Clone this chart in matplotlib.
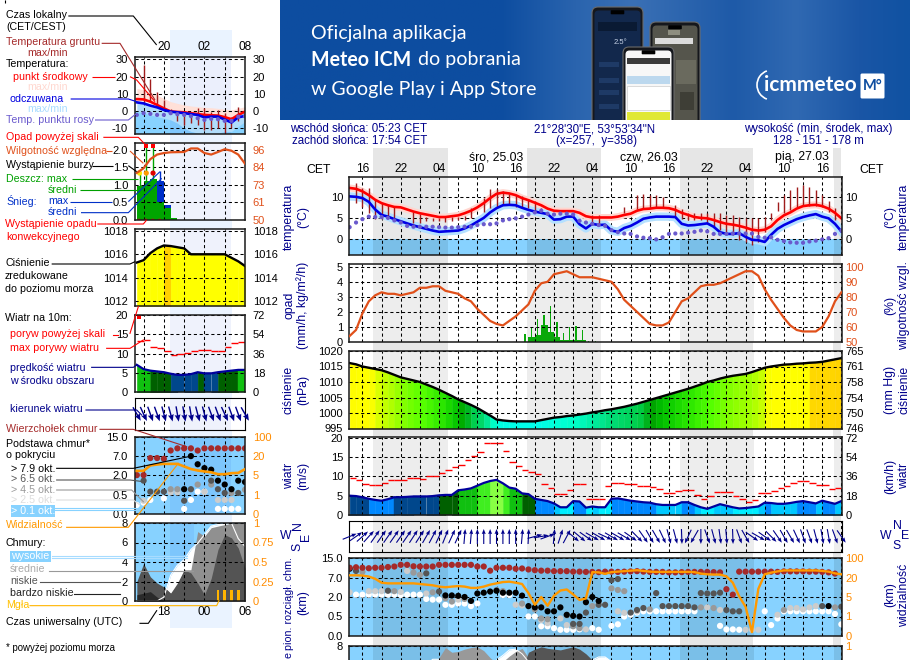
import numpy as np
import matplotlib
matplotlib.use('Agg')
import matplotlib.pyplot as plt
from matplotlib.patches import Rectangle, FancyBboxPatch, Arc
from matplotlib.colors import LinearSegmentedColormap

plt.rcParams['font.family'] = ['Liberation Sans', 'DejaVu Sans']
plt.rcParams['font.size'] = 8
W, H = 910, 660

# ---------- main meteogram data: hourly from t=-2 (t=0 is Tue 16:00 CET) ----------
temp_mid = [12.1,11.9,11.3,10.4,9.3,8.5,8.0,7.6,7.5,7.0,6.5,6.1,5.8,5.5,5.2,5.2,5.4,5.6,6.1,6.7,7.5,8.5,9.7,10.7,11.0,10.8,10.4,9.7,9.2,8.6,8.0,7.2,6.7,6.6,6.6,6.6,6.2,5.4,5.1,5.1,5.1,5.1,5.3,5.7,6.0,6.7,7.1,7.2,7.4,7.4,7.3,6.9,6.2,5.7,5.2,5.0,4.9,4.5,4.0,3.6,3.4,3.1,2.7,2.2,2.0,2.2,3.0,4.5,5.6,6.3,7.2,7.8,8.0,8.1,7.8,7.2,6.2,4.9]
temp_feel = [10.1,10,9.7,8.8,7.0,5.7,5.3,4.7,4.2,3.7,3.2,2.8,2.4,2.0,1.7,1.8,1.9,2.0,2.5,3.2,4.1,5.0,6.3,7.3,8.0,8.1,8.0,7.4,6.9,6.5,6.2,5.9,4.6,4.7,5.3,5.3,3.5,2.5,3.6,3.3,3.4,2.0,1.7,2.6,3.1,3.9,4.8,5.1,5.3,5.3,5.3,5.2,3.6,3.2,3.3,3.5,3.7,2.9,1.6,1.2,1.2,1.4,0.5,-0.2,-0.3,-0.7,1.0,2.4,3.3,4.0,4.7,5.2,5.6,5.9,5.3,4.9,3.6,1.8]
temp_dew = [2.8,3.9,4.7,5.3,5.2,5.2,5.0,4.4,3.9,3.1,2.9,2.9,2.9,2.9,2.8,2.7,2.7,2.8,2.9,2.9,3.3,3.5,3.5,3.7,4.4,4.7,4.9,5.3,5.8,6.3,6.7,6.0,5.8,6.0,6.0,5.8,4.3,3.9,3.6,3.3,3.1,2.1,1.6,1.3,1.2,0.6,0.3,0.2,-0.1,0.4,1.2,1.3,1.3,1.5,1.7,2.0,1.8,1.2,1.2,1.2,1.3,1.3,1.3,1.3,0.5,0.3,0.4,-0.2,-0.5,-0.8,-0.9,-0.9,-0.6,-0.4,-0.1,0.2,1.2,2.0]
soil_hours = [-1,0,1,2,3,4,5,8,9,10,11,12,13,14,15,16,17,19,20,21,22,23,24,25,26,27,28,36,37,41,43,44,45,46,47,49,50,51,52,53,54,55,56,57,58,59,60,61,62,63,64,65,66,67,68,69,70,71,72,73,74]
soil_max = [13.3,12.1,12.1,9.3,8.5,8.0,7.7,6.5,5.9,5.2,5.0,5.0,5.2,5.2,5.3,5.5,7.3,9.7,11.9,11.9,11.3,10.7,10.5,10.1,9.5,8.9,7.3,5.7,5.7,7.7,10.5,10.7,10.5,10.5,9.9,8.1,7.0,6.2,6.2,6.2,6.1,6.1,6.1,5.7,5.7,5.3,4.9,4.9,4.9,5.3,6.1,8.7,10.5,11.5,12.3,12.7,12.3,11.7,10.5,8.9,7.3]
soil_min = [8.5,7.7,6.1,4.7,4.7,4.9,4.5,3.7,3.9,4.2,4.2,4.2,4.0,4.2,4.5,4.5,4.9,6.3,7.3,7.5,8.1,8.0,7.7,7.5,7.3,6.5,6.1,3.3,3.5,6.1,7.0,7.3,7.3,7.3,7.3,5.3,4.7,4.5,4.5,4.5,3.7,2.5,2.1,1.0,1.0,-0.2,-0.6,-1.4,-0.6,1.7,4.5,6.6,6.1,6.9,7.7,7.9,7.9,7.9,7.5,6.5,4.5]
humidity = [54,58,69,77,81,83,82,82,81,82,83,86,86,87,87,84,83,82,79,77,72,68,64,62,61,64,67,71,75,84,89,90,95,96,97,95,93,93,93,92,91,90,85,78,74,70,66,62,61,61,63,70,77,79,83,87,88,88,89,91,93,95,97,97,94,85,78,72,66,61,58,57,57,57,60,67,77,83]
rain_hours = [25,26,27,28,29,30,31,32,33,34,35,36,37]
rain_mean = [0.02,0.33,0.45,1.1,0.67,0.33,0.1,0.15,0.15,0.15,0.02,0.02,0.02]
rain_max = [0.55,0.9,1.5,1.8,2.4,1.3,0.6,1.0,1.05,0.8,0.05,0.05,0.03]
pressure = [1016.1,1015.7,1015.0,1014.6,1014.2,1013.8,1013.1,1012.3,1011.5,1011,1010.5,1010,1009.2,1008.4,1007.5,1006.5,1005.5,1004.4,1003.5,1002.6,1001.6,1000.4,999.2,997.9,997.6,997.4,997.3,997.3,997.3,997.3,997.7,998.1,998.5,998.7,999,999.2,999.5,999.8,1000.2,1000.5,1000.9,1001.2,1001.6,1002,1002.5,1003,1003.6,1004.2,1004.8,1005.4,1006,1006.6,1007.2,1007.8,1008.5,1009.2,1010,1010.5,1011.1,1011.6,1012,1012.3,1012.6,1013.2,1013.9,1014.6,1015,1015.3,1015.6,1015.7,1015.9,1016,1016.2,1016.3,1016.5,1016.9,1017.3,1017.7]
wind = [5,4.9,4.6,4.2,3.9,3.7,4.1,4.6,4.6,4.7,4.8,4.8,4.8,4.9,5.1,5.2,5.2,6.4,6.6,6.9,7.6,8.3,8.8,9.1,8.2,7.1,6.8,5.6,5.4,4.2,3.9,3.6,3,2,2,3.6,3.5,1.9,2.2,2,2,4.2,4.3,4.0,3.7,3.5,3.3,3.2,2.8,2.6,2.6,2.6,3.3,3.3,2.6,2,1.6,2.2,2.8,2.4,2.0,1.7,1.8,2.0,2.2,3.2,3.1,2.9,2.9,3.1,3.4,3.6,3.3,3,3.7,3.3,2.9,3.6]
gust = [9.6,9.1,8,7.7,7.7,8.2,9,9,9,9.6,9.6,9.3,10.2,10.2,10.9,11.7,12.4,13,14.3,15.2,16.4,18.7,18.6,18.6,16.6,13.7,12.7,11.7,11.2,10.6,8,7,5.4,5.4,6.5,8,8,4.1,4.1,4.1,7.6,8.2,8.2,8.1,8.1,7.6,7.6,7.2,6.8,5.8,5.8,6.1,6.5,6.5,5.1,4.1,5,6,6,6,5,4.1,3.3,3.9,5.7,5.7,6.3,7,7.6,8.3,8.9,8.9,8.3,7.7,7.7,6.8,7]
wind_dir = [68,55,48,42,35,35,35,35,35,35,33,33,30,28,25,22,25,25,5,5,0,0,0,0,0,0,0,5,3,75,80,70,5,18,28,130,130,125,120,120,115,120,120,120,125,135,145,150,150,155,165,165,178,205,210,180,160,165,172,175,178,160,150,125,120,125,135,145,150,150,155,160,160,165,170,170,160,145]
cloud_top = [11,11.2,11,10.8,11,11,11.3,11.5,12.2,12.2,11.6,11.5,11.5,11.5,12.2,12.2,12.2,12.2,12.2,12.2,11.5,11.5,9.8,11,11,11,10.6,10.7,10.3,10,9.8,9.8,9.6,9.6,9.6,9.4,9.4,9.3,9.3,9.2,9.4,9.4,9.3,9.4,9.5,9.6,9.4,9.3,9.3,9.3,9.1,9.1,9.2,9.3,9.3,9.3,9.3,9.2,9.1,4.0,2.6,9.4,9.4,9.4,9.4,9.4,9.4,9.3,9.5,9.5,9.5,9.5,9.4,9.4,9.3,9.1,8.6]
base79_hours = [-2,13,14,15,16,17,18,19,20,21,22,23,24,25,26,27,28,29,30,31,32,33,34,35,36,37,73]
base79 = [10.6,2.4,2.4,2.3,2,1.7,2.9,3.1,3.4,3.6,3.1,3.1,3.1,2.35,1.3,1.2,1.2,0.9,0.9,1.2,0.63,0.55,0.5,1.6,2,1.7,1.3]
base65_hours = [-1,4,10,12,33,34,35,37,38,39,40,42,43,44,46,47,48,49,50,51,52,53,54,55,56,57,58,59,72,75]
base65 = [9.7,3.6,8.7,3.4,0.31,0.31,0.8,1.4,1.4,6.3,6.6,0.8,1.0,1.15,3.0,1.3,1.3,1.3,1.3,1.3,1.2,3.0,2.9,2.9,3.1,1.0,0.9,0.9,1.3,1.25]
base45_hours = [0,5,8,9,11,13,14,16,21,22,25,27,28,29,32,33,34,36,39,40,41,45,53,55,66,74]
base45 = [9.3,3.5,9,8.1,3.2,1.9,1.65,1.85,3.8,3.5,1.5,1.05,0.45,0.43,0.6,0.25,0.2,1.3,4.2,3.8,3.5,1.05,1.2,1.15,1.0,1.2]
base25_hours = [-2,1,2,3,6,7,10,15,24,25,28,29,31,32,35,37,40,41,43,54,56,60,61,62,65,67,68,69,70,71]
base25 = [3.2,3.5,3.5,3.5,3.3,9.7,2.9,1.8,1.4,1.35,0.41,0.33,0.45,0.28,0.17,1.5,0.9,0.78,0.9,1.2,1.0,0.16,0.16,0.16,0.63,1.15,1.15,1.05,1.2,1.3]
base01_hours = [-1,0,1,2,3,4,5,6,7,8,9,10,11,12,13,14,15,16,17,18,22,23,26,27,28,29,30,31,32,33,34,36,37,39,40,41,42,43,44,45,46,47,48,49,50,51,52,56,57,58,59,63,64,65,66,67,68,69,70,71,72,73,74,75]
base01 = [2.6,2.6,2.6,2.6,2.6,2.6,2.6,2.5,2.6,2.6,2.6,1.85,1.8,1.8,1.4,1.4,1.5,1.5,1.3,1.5,2.5,2.5,0.5,0.5,0.25,0.25,0.2,0.16,0.16,0.16,0.17,0.2,0.16,0.26,0.3,0.5,0.63,0.8,0.9,0.9,0.9,0.9,0.9,0.9,0.9,0.9,0.9,0.26,0.17,0.17,0.16,0.9,0.28,0.45,0.9,0.9,0.9,0.9,0.9,0.9,0.9,0.9,0.7,0.3]
visibility = [29,29,28,24,19,16,15.5,15.5,15.5,15.5,15.5,15,14.5,14,13,12.5,13,13.4,13,12,12,13,14.5,15.5,16.5,16.8,16,15,8,3.4,5,3.2,6,10,10.8,7,4.4,4.7,42,41,35,42,44,46,48,50,47,44,43,43,43,43,43,43,42,36,33,32,32,25,16,5.5,3,0.2,11.3,33,40,45,49,49,49,49,49,49,47,44,37,33]
cloud_hours = [9,10,11,12,13,14,15,16,17,18,19,20,21,22,23,24,25,26,27,28,29,30,31,32,33,34,35,36,37,38,39,40,47,48,49]
cloud_high = [0.5,0.75,0.83,0.83,0.7,0.6,0.5,0.5,0.5,0.5,0.6,0.7,0.82,0.88,0.95,0.96,0.9,0.8,0.7,0.7,0.7,0.7,0.7,0.7,0.7,0.7,0.75,0.82,0.86,0.86,0.8,0.7,0.76,0.82,0.76]
cloud_mid = [0.3,0.5,0.7,0.85,0.98,0.92,0.93,0.96,0.98,0.99,0.94,0.85,0.78,0.8,0.87,0.93,0.97,0.85,0.8,0.8,0.8,0.8,0.8,0.8,0.8,0.8,0.8,0.7,0.6,0.5,0.4,0.3,0.3,0.3,0.3]
cloud_low = [0,0,0,0,0,0,0,0,0,0,0,0,0,0,0,0,0.7,0.92,0.96,0.99,0.97,0.96,0.95,0.97,0.99,0.96,0.9,0.82,0.75,0.7,0.5,0.3,0,0,0]
night_start = [1.63,25.8,49.8,73.8]
night_end = [13.4,37.4,61.3,77.0]
main_hour_ticks = [0,6,12,18,24,30,36,42,48,54,60,66,72]
main_hour_labels = ['16','22','04','10','16','22','04','10','16','22','04','10','16']

# ---------- left legend meteogram: hourly from 16:00 ----------
l_temp_mid = [6.9,6.7,5.4,3.5,1.5,-0.3,-0.6,-0.8,-1.3,-1.8,-2.3,-2.5,-2.7,-3.6,-4.8,-2.3,-0.4]
l_temp_feel = [5,4.4,3.1,2.1,0.6,-0.4,-0.8,-1.3,-1.8,-2.3,-3.7,-3.3,-3.3,-5,-6.7,-3.7,-2.9]
l_temp_dew = [-2.3,-1.3,-1.7,-2.3,-2.3,-1.3,-1.9,-2.3,-3,-4.2,-5.2,-4.6,-4.8,-5.8,-5.8,-3.3,-3]
l_temp_top = [13,12.5,11,9.2,7.3,5.4,4.4,3.5,2.9,2.5,2.1,1.9,1.5,1,0.6,1.5,2.5]
l_feel_min = [-0.4,-1,-2.3,-3.3,-4.2,-5.2,-7.1,-10,-11.9,-12.9,-13,-13,-12.9,-11.9,-11.9,-9,-6.2]
l_soil_hours = [1,2,3,4,5,6,7,8,9,10,11,12,13,14,15]
l_soil_max = [26.5,18.8,11,6.5,1,-0.2,-0.4,-0.5,1.5,1.5,-0.4,0.5,-1.3,-3.3,2.5]
l_soil_min = [4.4,5.4,4,0.6,-2,-6,-8,-7,-8,-11,-11,-10,-13,-10,-6]
l_humidity = [81,84,90,93,94,94.5,94.6,94.7,97,97,94,93,94.7,96.5,95.5,93,87]
l_rain_hours = [0,1,2,3,4,5]
l_rain = [0.96,1.1,1.17,0.52,0.33,0.05]
l_snow = [0,0,0,0.58,0.1,0]
l_rain_peak_hours = [0.4,1.4,2.4]
l_rain_peak = [1.34,2.1,2.1]
l_pressure = [1015.3,1015.5,1016.1,1016.5,1016.75,1016.7,1016.6,1016.5,1016,1016,1016,1016,1016,1016,1015.7,1015.4,1015]
l_wind = [7.1,6,5.6,5.4,5.2,4.8,4.5,4.5,4.7,5.2,4.9,4.9,5.2,5.4,5.6,5.8,5.8]
l_gust = [13.2,13.6,11.7,11.5,10.6,9.7,10,10.2,10.6,10.9,10.9,10.6,10.6,11.7,12.8,13]
l_dir = [150,155,160,160,165,165,170,170,170,165,165,160,160,155,160,160,150]
l_top = [2.1,2.1,6.5,6.5,6.3,9.3,10.2,10.2,10.2,9.3,10.2,10.2,10.2,10.2,10.2,10.2,10.2]
l_base79_h = [7,8,9,10,11,12,13,14,15,16]
l_base79 = [0.94,7,4.9,3.9,3.5,1.6,1.3,0.94,1.6,1.5]
l_base65_h = [1,2,3,4,7,8,11,12,13,15]
l_base65 = [1.6,0.75,0.75,0.75,0.35,0.94,1.6,0.94,0.65,0.65]
l_base45_h = [5,6,9,11,14,16]
l_base45 = [0.94,0.94,1.3,1.3,0.65,0.9]
l_base25_h = [1,5,6,10,12,13,14]
l_base25 = [0.35,0.7,0.7,0.75,0.37,0.37,0.37]
l_base01_h = [0,1,2,4,7,8,9,10,12,13,14,15]
l_base01 = [0.24,0.3,0.37,0.41,0.14,0.37,0.75,0.75,0.14,0.14,0.14,0.14]
l_vis = [8.6,8.6,12.8,13.5,14,14,14,12,10,8.9,8.1,7.5,6,6,6.8,7,9.9]
l_high = [0,0,0,0,0.05,0.33,0.46,0.53,0.66,0.74,0.85,0.96,0.98,0.98,1,0.8,0.7]
l_mid = [0,0,0,0,0.18,0.1,0.2,0.4,0.4,0.89,0.83,0.94,0.96,0.98,1,1,1]
l_low = [0.25,0.48,0.31,0.23,0.18,0.1,0.23,0.4,0.36,0.23,0.08,0.29,0.66,0.85,0.81,0.68,0.42]
l_vlow = [0.08,0.1,0.12,0.05,0,0,0,0,0,0,0,0,0,0,0,0,0]
l_fog_hours = [12,13,14,15]
l_fog = [0.14,0.14,0.14,0.14]

fig = plt.figure(figsize=(W/100, H/100), dpi=100, facecolor='white')

def box(x0, y0, x1, y1, **kw):
    return fig.add_axes([x0/W, 1-y1/H, (x1-x0)/W, (y1-y0)/H], **kw)

def hrs(a):
    return np.arange(len(a)) - 2

def fine(a):
    return np.arange(len(a))

MX = lambda t: 362.3 + 6.38*t

# background
bg = box(0, 0, W, H, zorder=0)
bg.set_xlim(0, W); bg.set_ylim(H, 0); bg.axis('off')
for a, b in zip(night_start, night_end):
    bg.add_patch(Rectangle((MX(a), 148), MX(min(b, 75.1))-MX(a), H-148, color='#e6e6e6', lw=0))
bg.add_patch(Rectangle((170, 30), 61.7, 598, color='#eaf3ff', lw=0))

# banner
bannercm = LinearSegmentedColormap.from_list('b', [(0, '#0d4da0'), (0.35, '#0d4da0'), (0.47, '#2a64ae'), (0.56, '#3a70b5'), (0.72, '#1e5aa8'), (0.82, '#3069b2'), (0.92, '#1a56a6'), (1, '#1052a2')])
bg.imshow(np.linspace(0, 1, 256)[None, :], extent=(280, 910, 120, 0), cmap=bannercm, aspect='auto', zorder=1)
bg.set_xlim(0, W); bg.set_ylim(H, 0)
def phone(x0, y0, x1, y1, screen, z):
    bg.add_patch(FancyBboxPatch((x0+2, y0+2), x1-x0-4, 130-y0, boxstyle='round,pad=2,rounding_size=6', fc='#15171c', ec='#6a6a6a', lw=0.8, zorder=z))
    bg.add_patch(FancyBboxPatch((x0+3, y0+4), x1-x0-6, 130-y0, boxstyle='round,pad=0.5,rounding_size=4', fc=screen, lw=0, zorder=z+0.1))
    bg.add_patch(FancyBboxPatch(((x0+x1)/2-6, y0+4), 12, 2.5, boxstyle='round,pad=0.8', fc='black', lw=0, zorder=z+0.2))
phone(592, 7, 643, 125, '#12284c', 2)
phone(650, 22, 700, 125, '#55554c', 3)
phone(623, 47, 674, 125, '#f7f7f7', 4)
bg.add_patch(Rectangle((598, 22), 39, 9, fc='#0a1a33', lw=0, zorder=3))
for yy in [62, 78, 90, 104]:
    bg.add_patch(Rectangle((599, yy), 20, 5, fc='#1e3a66', lw=0, zorder=3))
bg.text(620, 42, '2.5°', color='#c8d4e8', fontsize=5.5, ha='center', va='center', zorder=3)
for (xx, yy, ww, hh, cc) in [(655, 38, 38, 6, '#dcdcdc'), (676, 60, 20, 24, '#6a6a5e'), (680, 92, 14, 18, '#3e3e36'), (668, 30, 12, 5, '#8e8e80')]:
    bg.add_patch(Rectangle((xx, yy), ww, hh, fc=cc, lw=0, zorder=3.2))
bg.add_patch(Rectangle((627, 58), 43, 6, fc='#3a3a3a', lw=0, zorder=5))
bg.add_patch(Rectangle((627, 76), 43, 8, fc='#bcd8ee', lw=0, zorder=5))
bg.add_patch(Rectangle((627, 86), 43, 24, fc='white', ec='#c0c0c0', lw=0.4, zorder=5))
bg.add_patch(Rectangle((627, 112), 43, 8, fc='#e0e834', lw=0, zorder=5))
bg.add_patch(Rectangle((280, 120), 630, 28, fc='white', lw=0, zorder=6))

def base_axes(ax, xlim, xticks):
    ax.set_xlim(*xlim)
    ax.set_xticks(xticks, [''] * len(xticks))
    ax.grid(True, color='black', lw=0.75, linestyle=(0, (3, 2.6)))
    ax.set_axisbelow(False)
    ax.tick_params(length=0)
    for s in ax.spines.values():
        s.set_linewidth(1.1); s.set_color('#1a1a1a'); s.set_zorder(6)

def y_labels(ax, ticks, labels, rticks, rlabels, rcolor='black', rlim=None, pads=(4.3, 2.5), scale=None, lcolor='black'):
    ax.set_yticks(ticks, labels)
    ax.tick_params(axis='y', pad=pads[0], labelcolor=lcolor)
    r = ax.twinx()
    if scale is not None:
        r.set_yscale('function', functions=scale)
    r.set_ylim(rlim if rlim is not None else ax.get_ylim())
    r.set_yticks(rticks, rlabels)
    r.tick_params(axis='y', length=0, pad=pads[1], labelcolor=rcolor)
    r.grid(False)
    r.patch.set_visible(False)
    for s in r.spines.values():
        s.set_visible(False)
    return r

def ordinal(xp):
    return (lambda v: np.interp(v, xp, np.arange(len(xp))),
            lambda p: np.interp(p, np.arange(len(xp)), xp))

KM = ordinal([0, 0.5, 2, 7, 15])
VIS = ordinal([0, 1, 5, 20, 100])

P_COL = [(997, '#00ffee'), (999, '#00ffcc'), (1001, '#00dd77'), (1003, '#00cc44'), (1004, '#00a000'), (1005, '#00c000'), (1007, '#22e000'), (1010, '#55ff00'), (1012, '#90ff00'), (1014, '#c8ff00'), (1014.7, '#ffff00'), (1016.1, '#ffff00'), (1016.25, '#ffd800'), (1018, '#ffd000')]
pcmap = LinearSegmentedColormap.from_list('p', [((v-997)/21, c) for v, c in P_COL])
def pcolor(v):
    return pcmap((v-997)/21)
def pcolor_left(v):
    return '#ffd000' if v > 1016.72 else '#ffff00'
def wcolor(v):
    for lim, c in [(2.2, '#00eeff'), (3.2, '#00c8ff'), (4.4, '#0088ff'), (5.05, '#00478c'), (5.7, '#006000'), (7.5, '#10c010'), (8.5, '#40ee20')]:
        if v < lim:
            return c
    return '#88ff44'

def col_fill(ax, x, y, colfun, floor):
    for i in range(len(x)-1):
        ax.fill_between([x[i], x[i+1]], [y[i], y[i+1]], floor, color=colfun(y[i]), lw=0.3, zorder=1)

def shade(ax, starts, ends, color='black', alpha=0.07):
    for a, b in zip(starts, ends):
        ax.axvspan(a, b, color=color, alpha=alpha, lw=0, zorder=0.8)

def dots(ax, x, y, c, s=20, z=4):
    ax.scatter(x, y, s=s, c=c, edgecolors='none', linewidths=0, zorder=z)

def arrows(ax, x, d, L, wd, hw, hl):
    rad = np.radians(d)
    ax.quiver(x, np.full(len(x), 0.5), np.sin(rad), np.cos(rad), angles='uv', pivot='middle', color='#00008b',
              scale_units='inches', scale=1/L, width=wd, units='inches', headwidth=hw, headlength=hl, headaxislength=hl*0.9, clip_on=False, zorder=5)

# ================== MAIN PANELS ==================
MLIM = (-2.1, 75.1)
MT = list(range(0, 76, 3))
ax = box(349, 177, 842, 255, zorder=2)
base_axes(ax, MLIM, MT)
ax.set_ylim(-3.8, 14.7)
ax.axhspan(-3.8, 0, color='#87d2ff', lw=0, zorder=0.5)
shade(ax, night_start, night_end, alpha=0.09)
ax.plot(hrs(temp_mid), temp_mid, color='#ffd6cf', lw=5, zorder=2.6)
ax.plot(hrs(temp_feel), temp_feel, color='#b4e0ff', lw=6, zorder=2.7)
ax.vlines(soil_hours, soil_min, soil_max, color='#a01c1c', lw=1, zorder=3)
ax.plot(hrs(temp_mid), temp_mid, color='#ff0000', lw=1.9, zorder=3.2)
ax.plot(hrs(temp_feel), temp_feel, color='#0000e6', lw=1.9, zorder=3.2)
dots(ax, hrs(temp_dew), temp_dew, '#6a5acd', s=9)
y_labels(ax, [0, 5, 10], ['0', '5', '10'], [0, 5, 10], ['0', '5', '10'])
ax.set_xticks(MT, [main_hour_labels[main_hour_ticks.index(t)] if t in main_hour_ticks else '' for t in MT])
ax.xaxis.tick_top()
ax.tick_params(axis='x', pad=1.5, length=0, labelsize=8.6)

ax = box(349, 264, 842, 342, zorder=2)
base_axes(ax, MLIM, MT)
ax.set_ylim(0, 5.18)
shade(ax, night_start, night_end)
ax.bar(rain_hours, rain_mean, width=1, align='edge', color='#0aa80a', lw=0, zorder=2)
ax.bar(np.array(rain_hours)+0.45, rain_max, width=0.2, color='#0aa80a', lw=0, zorder=2)
r = y_labels(ax, [0, 1, 2, 3, 4, 5], list('012345'), [50, 60, 70, 80, 90, 100], ['50', '60', '70', '80', '90', '100'], '#e0501a', (50, 101.8))
r.plot(hrs(humidity), humidity, color='#e0501a', lw=1.6, zorder=4)

ax = box(349, 351, 842, 428.5, zorder=2)
base_axes(ax, MLIM, MT)
ax.set_ylim(995, 1020)
shade(ax, night_start, night_end)
col_fill(ax, hrs(pressure), pressure, pcolor, 995)
ax.plot(hrs(pressure), pressure, color='black', lw=1.7, zorder=3)
y_labels(ax, [995, 1000, 1005, 1010, 1015, 1020], ['995', '1000', '1005', '1010', '1015', '1020'], [995, 1000, 1005, 1010, 1015, 1020], ['746', '750', '754', '758', '761', '765'])

ax = box(349, 437, 842, 515, zorder=2)
base_axes(ax, MLIM, MT)
ax.set_ylim(0, 20.2)
shade(ax, night_start, night_end)
col_fill(ax, hrs(wind), wind, wcolor, 0)
ax.plot(hrs(wind), wind, color='#00009c', lw=1.6, zorder=3)
ax.hlines(gust, hrs(gust), hrs(gust)+1, color='#ff0000', lw=1, zorder=3)
y_labels(ax, [0, 5, 10, 15, 20], ['0', '5', '10', '15', '20'], [0, 18, 36, 54, 72], ['0', '18', '36', '54', '72'], rlim=(0, 72.7))

ax = box(349, 521, 842, 552, zorder=2)
ax.set_xlim(*MLIM); ax.set_ylim(0, 1)
ax.set_xticks(MT, [''] * len(MT)); ax.set_yticks([])
ax.grid(True, axis='x', color='black', lw=0.75, linestyle=(0, (3, 2.6)))
ax.tick_params(length=0)
shade(ax, night_start, night_end)
arrows(ax, hrs(wind_dir), wind_dir, 0.15, 0.011, 3.6, 4.6)

ax = box(349, 558, 842, 636, zorder=2)
base_axes(ax, MLIM, MT)
ax.set_facecolor('#87d2ff')
ax.set_yscale('function', functions=KM)
ax.set_ylim(0, 15)
shade(ax, night_start, night_end, alpha=0.09)
dots(ax, base01_hours, base01, 'white', z=3.2)
dots(ax, base25_hours, base25, '#cccccc', z=3.3)
dots(ax, base45_hours, base45, '#999999', z=3.4)
dots(ax, base65_hours, base65, '#555555', z=3.5)
dots(ax, base79_hours, base79, 'black', z=3.6)
dots(ax, hrs(cloud_top), cloud_top, '#a52a2a', z=3.7)
r = y_labels(ax, [0, 0.5, 2, 7, 15], ['0.0', '0.5', '2.0', '7.0', '15.0'], [0, 1, 5, 20, 100], ['0', '1', '5', '20', '100'], '#ff8c00', (0, 100), scale=VIS)
r.plot(hrs(visibility), visibility, color='#ff9900', lw=1.7, zorder=5)

ax = box(349, 646, 842, 724, zorder=2)
base_axes(ax, MLIM, MT)
ax.set_facecolor('#87d2ff')
ax.set_ylim(0, 1)
shade(ax, night_start, night_end, alpha=0.09)
ax.fill_between(cloud_hours, cloud_high, 0, color='white', lw=0, zorder=1)
ax.fill_between(cloud_hours, cloud_mid, 0, color='#999999', lw=0, zorder=1.1)
ax.fill_between(cloud_hours, cloud_low, 0, color='#555555', lw=0, zorder=1.2)
ax.plot(cloud_hours, cloud_high, color='white', lw=0.7, zorder=1.3)
y_labels(ax, [1], ['8'], [1], ['1'], '#ff8c00')

# ================== LEFT LEGEND PANELS ==================
LLIM = (-0.27, 15.9)
LT = [1, 4, 7, 10, 13, 16]
NS, NE = [4.88], [13.96]
LP = (5, 5.5)
night_col = '#2050e0'
ax = box(135, 57.3, 245, 134, zorder=2)
base_axes(ax, LLIM, LT)
ax.set_ylim(-13.4, 31.2)
ax.axhspan(-13.4, 0, color='#87d2ff', lw=0, zorder=0.5)
shade(ax, NS, NE, night_col, 0.085)
ax.fill_between(fine(l_temp_mid), l_temp_mid, l_temp_top, color='#ffe0d8', lw=0, zorder=1)
ax.fill_between(fine(l_temp_feel), l_temp_feel, l_feel_min, color='#b0dcfa', lw=0, zorder=1)
ax.vlines(l_soil_hours, l_soil_min, l_soil_max, color='#a01c1c', lw=1, zorder=3)
ax.plot(fine(l_temp_mid), l_temp_mid, color='#ff0000', lw=1.9, zorder=3.2)
ax.plot(fine(l_temp_feel), l_temp_feel, color='#0000e6', lw=1.9, zorder=3.2)
dots(ax, fine(l_temp_dew), l_temp_dew, '#6a5acd', s=9)
y_labels(ax, [-10, 0, 10, 20, 30], ['-10', '0', '10', '20', '30'], [-10, 0, 10, 20, 30], ['-10', '0', '10', '20', '30'], pads=LP)
ax.set_xticks(LT, ['', '20', '', '02', '', '08'])
ax.xaxis.tick_top()
ax.tick_params(axis='x', pad=3, length=0, labelsize=8.6)

ax = box(135, 143.3, 245, 220, zorder=2)
base_axes(ax, LLIM, LT)
ax.set_ylim(0, 2.19)
shade(ax, NS, NE, night_col)
ax.bar(l_rain_hours, l_rain, width=1, align='edge', color='#00a500', lw=0, zorder=2)
ax.bar(l_rain_hours, l_snow, bottom=l_rain, width=1, align='edge', color='#0030c8', lw=0, zorder=2)
ax.vlines(l_rain_peak_hours, 0.9, l_rain_peak, color='#00a500', lw=1, zorder=3)
ax.vlines([3.5], 1.1, 1.4, color='#0030c8', lw=1, zorder=3)
dots(ax, l_rain_peak_hours, [1.34, 1.34, 1.34], ['#ffe600', '#ff9a00', '#e00000'], s=14, z=5)
ax.scatter(l_rain_peak_hours[1:], l_rain_peak[1:], marker='s', s=7, c='#ff0000', zorder=5, lw=0)
ax.hlines([0.02], 0, 4, color='#ff0000', lw=1, linestyle=(0, (2, 3)), zorder=5)
r = y_labels(ax, [0, 0.5, 1, 1.5, 2], ['0.0', '0.5', '1.0', '1.5', '2.0'], [50, 61.5, 73, 84.5, 96], ['50', '61', '73', '84', '96'], '#e0501a', (50, 100.4), pads=LP)
r.plot(fine(l_humidity), l_humidity, color='#e0501a', lw=1.6, zorder=4)

ax = box(135, 229, 245, 306, zorder=2)
base_axes(ax, LLIM, LT)
ax.set_ylim(1011.6, 1018.15)
shade(ax, NS, NE, night_col)
col_fill(ax, fine(l_pressure), l_pressure, pcolor_left, 1011.6)
ax.plot(fine(l_pressure), l_pressure, color='black', lw=1.7, zorder=3)
y_labels(ax, [1012, 1014, 1016, 1018], ['1012', '1014', '1016', '1018'], [1012, 1014, 1016, 1018], ['1012', '1014', '1016', '1018'], pads=LP)

ax = box(135, 315, 245, 392.3, zorder=2)
base_axes(ax, LLIM, LT)
ax.set_ylim(0, 20)
shade(ax, NS, NE, night_col)
col_fill(ax, fine(l_wind), l_wind, wcolor, 0)
ax.plot(fine(l_wind), l_wind, color='#00009c', lw=1.6, zorder=3)
ax.hlines(l_gust, fine(l_gust), fine(l_gust)+1, color='#ff0000', lw=1, zorder=3)
ax.scatter([0.3], [19.5], marker='s', s=5, c='#ff0000', lw=0, zorder=5)
y_labels(ax, [0, 5, 10, 15, 20], ['0', '5', '10', '15', '20'], [0, 18, 36, 54, 72], ['0', '18', '36', '54', '72'], rlim=(0, 72), pads=LP)

ax = box(135, 398, 245, 430, zorder=2)
ax.set_xlim(*LLIM); ax.set_ylim(0, 1)
ax.set_xticks(LT, [''] * len(LT)); ax.set_yticks([])
ax.grid(True, axis='x', color='black', lw=0.75, linestyle=(0, (3, 2.6)))
ax.tick_params(length=0)
shade(ax, NS, NE, night_col)
arrows(ax, fine(l_dir), l_dir, 0.155, 0.014, 4.2, 5)

ax = box(135, 436.7, 245, 514.3, zorder=2)
base_axes(ax, LLIM, LT)
ax.set_facecolor('#87d2ff')
ax.set_yscale('function', functions=KM)
ax.set_ylim(0, 15)
shade(ax, NS, NE, night_col, 0.09)
dots(ax, l_base01_h, l_base01, 'white', z=3.2)
dots(ax, l_base25_h, l_base25, '#cccccc', z=3.3)
dots(ax, l_base45_h, l_base45, '#999999', z=3.4)
dots(ax, l_base65_h, l_base65, '#555555', z=3.5)
dots(ax, l_base79_h, l_base79, 'black', z=3.6)
dots(ax, fine(l_top), l_top, '#a52a2a', z=3.7)
r = y_labels(ax, [0, 0.5, 2, 7, 15], ['0.0', '0.5', '2.0', '7.0', '15.0'], [0, 1, 5, 20, 100], ['0', '1', '5', '20', '100'], '#ff8c00', (0, 100), scale=VIS, pads=LP)
r.plot(fine(l_vis), l_vis, color='#ff9900', lw=1.9, zorder=5)

ax = box(135, 523, 245, 601, zorder=2)
base_axes(ax, LLIM, LT)
ax.set_facecolor('#87d2ff')
ax.set_ylim(0, 1)
shade(ax, [4.88], [8.5], night_col, 0.09)
ax.fill_between(fine(l_high), l_high, 0, color='white', lw=0, zorder=1)
ax.fill_between(fine(l_mid), l_mid, 0, color='#909090', lw=0, zorder=1.1)
ax.fill_between(fine(l_low), l_low, 0, color='#545454', lw=0, zorder=1.2)
ax.fill_between(fine(l_vlow), l_vlow, 0, color='#2a2a2a', lw=0, zorder=1.3)
ax.plot(fine(l_high), l_high, color='white', lw=0.8, zorder=1.4)
ax.bar(l_fog_hours, l_fog, width=0.38, color='#ffb400', lw=0, zorder=3)
y_labels(ax, [0, 0.25, 0.5, 0.75, 1], ['0', '2', '4', '6', '8'], [0, 0.25, 0.5, 0.75, 1], ['0', '0.25', '0.5', '0.75', '1'], '#ff8c00', pads=LP)
ax.set_xticks(LT, ['', '18', '', '00', '', '06'])
ax.tick_params(axis='x', pad=3.5, length=0, labelsize=8.6)

# ================== TEXT AND LEADERS ==================
fg = box(0, 0, W, H, zorder=10)
fg.set_xlim(0, W); fg.set_ylim(H, 0); fg.axis('off'); fg.patch.set_visible(False)
def T(x, y, s, c='black', ha='left', size=7.7, **kw):
    fg.text(x, y, s, color=c, ha=ha, va='center', fontsize=size, **kw)
def L(pts, c, lw=0.8):
    p = np.array(pts, float)/3
    fg.plot(p[:, 0], p[:, 1], color=c, lw=lw, solid_capstyle='butt', zorder=1)
def L2(pts, c, off, lw=0.8):
    p = np.array(pts, float)/3
    fg.plot(p[:, 0], p[:, 1]+off, color=c, lw=lw)

NAVY = '#00008b'; RED = '#ff0000'; BRN = '#a52a2a'; ORG = '#e0501a'; GRN = '#00a000'; BLU = '#0030c8'; AMB = '#ff9900'
L([(15,0),(15,9)], 'black')
T(6, 15, 'Czas lokalny'); T(6, 26.5, '(CET/CEST)')
T(6, 42, 'Temperatura gruntu', BRN); T(27, 52.5, 'max/min', BRN)
T(6, 64, 'Temperatura:')
T(13, 76.5, 'punkt środkowy', RED); T(27, 86.5, 'max/min', '#ffd8d0')
T(10, 98.5, 'odczuwana', '#0000e0'); T(27, 108.5, 'max/min', '#a8dcff')
T(6, 120, 'Temp. punktu rosy', '#6a5acd')
T(6, 137, 'Opad powyżej skali', RED); T(6, 151, 'Wilgotność względna', ORG)
T(6, 165, 'Wystąpienie burzy')
T(6, 179, 'Deszcz: max', GRN); T(48, 190, 'średni', GRN)
T(6, 201, 'Śnieg:', BLU); T(48, 201, 'max', BLU); T(48, 212, 'średni', BLU)
T(5, 224, 'Wystąpienie opadu', RED); T(6, 237, 'konwekcyjnego', RED)
T(5, 263, 'Ciśnienie'); T(5, 276, 'zredukowane'); T(5, 289, 'do poziomu morza')
T(5, 318, 'Wiatr na 10m:')
T(10, 334, 'poryw powyżej skali', RED); T(10, 348, 'max porywy wiatru', RED)
T(10, 368, 'prędkość wiatru', NAVY); T(10, 381, 'w środku obszaru', NAVY)
T(10, 409, 'kierunek wiatru', NAVY)
T(6, 429, 'Wierzchołek chmur', BRN)
T(6, 444, 'Podstawa chmur*'); T(6, 455, 'o pokryciu')
T(11, 469, '> 7.9 okt.'); T(11, 479, '> 6.5 okt.', '#555555'); T(11, 490, '> 4.5 okt.', '#999999'); T(11, 500, '> 2.5 okt.', '#dddddd')
fg.add_patch(Rectangle((11, 505), 44, 12, fc='#87d2ff', lw=0))
T(11, 511, '> 0.1 okt.', 'white')
T(6, 525, 'Widzialność', AMB)
T(6, 543, 'Chmury:')
fg.add_patch(Rectangle((10, 551), 41, 11, fc='#87d2ff', lw=0))
T(11, 556, 'wysokie', 'white'); T(10, 569, 'średnie', '#aaaaaa'); T(10, 581, 'niskie', '#555555'); T(10, 593, 'bardzo niskie', '#222222')
T(6, 605, 'Mgła', '#ffc000')
T(6, 622, 'Czas uniwersalny (UTC)')
T(6, 648, '* powyżej poziomu morza', size=6.9, fontweight='medium')

L([(205,48),(400,48),(470,135)], 'black')
L([(305,130),(360,130),(465,300)], BRN)
L([(275,230),(345,230)], RED); L([(390,230),(410,240),(465,305)], RED)
L([(212,297),(385,297),(410,305)], '#0000e0')
L([(285,360),(385,360),(410,340)], '#6a5acd')
L([(310,412),(415,412),(437,435)], RED)
L([(318,453),(335,453)], ORG); L([(390,453),(430,490)], ORG)
L([(275,497),(340,497)], 'black'); L([(385,497),(410,515)], 'black')
L([(215,537),(415,537)], GRN); L([(240,571),(415,571)], GRN)
L([(210,605),(335,605)], BLU); L([(385,605),(480,515)], BLU)
L([(243,638),(385,638),(485,535)], BLU)
L([(292,672),(430,672),(440,660)], RED)
L([(155,792),(390,792),(405,785)], 'black')
Y2 = 330
L2([(338,15),(355,15)], RED, Y2); L2([(390,10),(415,-70)], RED, Y2)
L2([(320,55),(390,55),(430,30)], RED, Y2)
L2([(275,112),(400,112),(410,105)], NAVY, Y2)
L2([(258,240),(410,240),(425,255)], NAVY, Y2)
L2([(300,298),(400,298),(560,350)], BRN, Y2)
L2([(170,415),(400,415),(575,378)], 'black', Y2)
L2([(170,450),(390,450),(430,455)], '#555555', Y2)
L2([(170,480),(395,480),(430,515)], '#999999', Y2)
L2([(170,510),(400,510),(420,525)], '#dddddd', Y2)
L2([(165,535),(405,535)], '#87d2ff', Y2); L2([(165,541),(405,541)], '#87d2ff', Y2)
L2([(200,592),(385,592),(535,400)], AMB, Y2)
L2([(155,678),(560,678)], '#a8dcff', Y2); L2([(155,684),(560,684)], '#a8dcff', Y2)
L2([(148,722),(580,722)], '#999999', Y2)
L2([(120,755),(360,755)], '#555555', Y2); L2([(222,792),(360,792)], '#222222', Y2)
L2([(90,827),(650,827),(657,812)], '#ffb400', Y2)
L2([(420,880),(445,880),(470,842)], 'black', Y2)

# header
T(290, 129, 'wschód słońca: 05:23 CET', NAVY, size=8.3); T(292, 141, 'zachód słońca: 17:54 CET', NAVY, size=8.3)
T(595, 129, '21°28\'30"E, 53°53\'34"N', NAVY, ha='center', size=8.3); T(596, 141, '(x=257,  y=358)', NAVY, ha='center', size=8.3)
T(818, 129, 'wysokość (min, środek, max)', NAVY, ha='center', size=8.3); T(818, 141, '128 - 151 - 178 m', NAVY, ha='center', size=8.3)
T(496, 157, 'śro, 25.03', ha='center', size=8.8); T(649, 157, 'czw, 26.03', ha='center', size=8.8); T(802, 157, 'pią, 27.03', ha='center', size=8.8)
T(319, 170, 'CET', ha='center', size=8.8); T(872, 170, 'CET', ha='center', size=8.8)

def rot(x, y, s, c=NAVY, size=8.8):
    fg.text(x, y, s, color=c, rotation=90, ha='center', va='center', fontsize=size)
for x, y, s in [(289, 217, 'temperatura'), (303, 217, '(°C)'), (290, 305, 'opad'), (303, 305, '(mm/h, kg/m²/h)'),
                (289, 390, 'ciśnienie'), (303, 390, '(hPa)'), (289, 476, 'wiatr'), (303, 476, '(m/s)'),
                (303, 603, '(km)'),
                (890, 217, '(°C)'), (904, 217, 'temperatura'), (890, 305, '(%)'), (904, 305, 'wilgotność wzgl.'),
                (890, 390, '(mm Hg)'), (904, 390, 'ciśnienie'), (890, 476, '(km/h)'), (904, 476, 'wiatr'),
                (890, 595, '(km)'), (904, 595, 'widzialność')]:
    rot(x, y, s)
rot(289, 603, 'pion. rozciągł. chm.', size=7.7)
rot(289, 655, 'e', size=7.7)
# wind compass labels
T(286, 536, 'W', NAVY, ha='center', size=8.8); T(298, 526, 'N', NAVY, ha='center', size=8.8, rotation=90)
T(306, 537, 'E', NAVY, ha='center', size=8.8, rotation=90); T(297, 547, 'S', NAVY, ha='center', size=8.8, rotation=90)
T(886, 536, 'W', NAVY, ha='center', size=8.8); T(897, 526, 'N', NAVY, ha='center', size=8.8)
T(905, 536, 'E', NAVY, ha='center', size=8.8); T(897, 546, 'S', NAVY, ha='center', size=8.8)

# banner texts
BF = ['Lato', 'DejaVu Sans']
fg.text(311, 33, 'Oficjalna aplikacja', color='white', fontsize=14.1, family=BF, va='center')
fg.text(311, 60, 'Meteo ICM', color='white', fontsize=14.1, family=BF, va='center', fontweight='bold')
fg.text(418, 60, 'do pobrania', color='white', fontsize=14.1, family=BF, va='center')
fg.text(311, 89, 'w Google Play i App Store', color='white', fontsize=14.1, family=BF, va='center')
fg.text(764, 85, 'icmmeteo', color='white', fontsize=15, family=BF, va='center', fontweight='bold')
fg.add_patch(FancyBboxPatch((861, 74), 23, 24, boxstyle='round,pad=0.5,rounding_size=1.5', fc='white', lw=0))
fg.text(872.5, 86, 'M°', color='#0d4da0', fontsize=10.5, ha='center', va='center', fontweight='bold', family=BF)
fg.add_patch(Arc((772, 85), 30, 30, theta1=110, theta2=250, color='white', lw=1.2))

fig.savefig('out.png', dpi=100)
